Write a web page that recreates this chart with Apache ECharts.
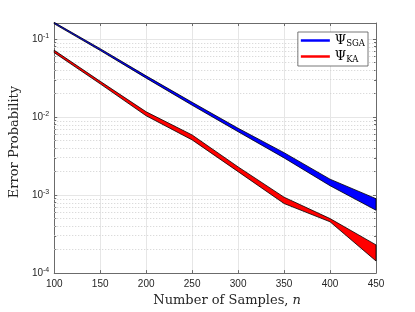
<!DOCTYPE html>
<html>
<head>
<meta charset="utf-8">
<script src="https://cdn.jsdelivr.net/npm/echarts@6/dist/echarts.min.js"></script>
<style>html,body{margin:0;padding:0;background:#fff}#c{width:415px;height:312px}</style>
</head>
<body>
<div id="c"></div>
<script>
const nValues = [100, 150, 200, 250, 300, 350, 400, 450];
const sgaUpper = [0.164, 0.0755, 0.0338, 0.0155, 0.0072, 0.0035, 0.0016, 0.00090];
const sgaLower = [0.157, 0.0715, 0.0316, 0.0142, 0.0065, 0.0030, 0.00132, 0.00064];
const kaUpper = [0.072, 0.0288, 0.0117, 0.0059, 0.0023, 0.00094, 0.00050, 0.00023];
const kaLower = [0.067, 0.0267, 0.0104, 0.0051, 0.0020, 0.00078, 0.000455, 0.000143];
const xTicks = [100, 150, 200, 250, 300, 350, 400, 450];
const yDecades = [-4, -3, -2, -1];

const L = Math.log10;
const yMin = -4, yMax = L(0.161);
const minorVals = [];
for (const d of yDecades) {
  for (let k = 2; k <= 9; k++) { const v = d + L(k); if (v < yMax) minorVals.push(v); }
}
const axisCol = '#6b6b6b';
const font = 'Liberation Sans';
const serif = 'DejaVu Serif';

function bandSeries(name, upper, lower, color) {
  const data = nValues.map((n, i) => [n, L(lower[i]), L(upper[i])]);
  return {
    type: 'custom', name: name, data: data, z: 5, silent: true,
    itemStyle: { color: color, borderWidth: 0 },
    encode: { x: 0, y: [1, 2] },
    renderItem: function (params, api) {
      if (params.dataIndex !== 0) return null;
      const top = data.map(d => api.coord([d[0], d[2]]));
      const bot = data.map(d => api.coord([d[0], d[1]])).reverse();
      return {
        type: 'polygon',
        shape: { points: top.concat(bot) },
        style: { fill: color, stroke: '#000', lineWidth: 0.8 }
      };
    }
  };
}

const chart = echarts.init(document.getElementById('c'), null, { renderer: 'canvas' });
const supLabel = v => {
  if (Math.abs(v - Math.round(v)) > 1e-6) return '';
  return '{b|10}{s|' + Math.round(v) + '}';
};
chart.setOption({
  animation: false,
  backgroundColor: '#fff',
  grid: { left: 54, right: 39, top: 23, bottom: 35, containLabel: false },
  xAxis: [
    { type: 'value', min: 100, max: 450, interval: 50, position: 'bottom',
      axisLine: { show: true, lineStyle: { color: axisCol, width: 1 } },
      axisTick: { show: true, inside: true, length: 3, lineStyle: { color: axisCol } },
      axisLabel: { color: '#262626', fontFamily: font, fontSize: 10, margin: 6 },
      splitLine: { show: true, lineStyle: { color: '#e6e6e6', width: 1 } },
      name: '{t|Number of Samples, }{i|n}', nameLocation: 'middle', nameGap: 20,
      nameTextStyle: { padding: [0, 0, 0, 24], rich: { t: { fontFamily: serif, fontSize: 13, color: '#262626' },
                               i: { fontFamily: serif, fontSize: 13, fontStyle: 'italic', color: '#262626' } } } },
    { type: 'value', min: 100, max: 450, interval: 50, position: 'top',
      axisLine: { show: true, lineStyle: { color: axisCol, width: 1 } },
      axisTick: { show: true, inside: true, length: 3, lineStyle: { color: axisCol } },
      axisLabel: { show: false }, splitLine: { show: false } }
  ],
  yAxis: [
    { type: 'value', min: yMin, max: yMax, interval: 1, position: 'left',
      axisLine: { show: true, lineStyle: { color: axisCol, width: 1 } },
      axisTick: { show: true, inside: true, length: 3, lineStyle: { color: axisCol } },
      axisLabel: { formatter: supLabel, showMaxLabel: false, margin: 5,
        rich: { b: { fontFamily: font, fontSize: 10, color: '#262626' },
                s: { fontFamily: font, fontSize: 7, color: '#262626', padding: [0, 0, 7, 0] } } },
      splitLine: { show: true, lineStyle: { color: '#e6e6e6', width: 1 } },
      name: 'Error Probability', nameLocation: 'middle', nameGap: 26, nameRotate: 90,
      nameTextStyle: { fontFamily: serif, fontSize: 13, color: '#262626', padding: [0, 0, 0, 12] } },
    { type: 'value', min: yMin, max: yMax, interval: 1, position: 'right',
      axisLine: { show: true, lineStyle: { color: axisCol, width: 1 } },
      axisTick: { show: true, inside: true, length: 3, lineStyle: { color: axisCol } },
      axisLabel: { show: false }, splitLine: { show: false } },
    { type: 'value', min: yMin, max: yMax, position: 'left',
      axisLine: { show: false },
      axisTick: { show: true, inside: true, length: 2, customValues: minorVals, lineStyle: { color: axisCol } },
      axisLabel: { show: false, customValues: minorVals }, splitLine: { show: false } },
    { type: 'value', min: yMin, max: yMax, position: 'right',
      axisLine: { show: false },
      axisTick: { show: true, inside: true, length: 2, customValues: minorVals, lineStyle: { color: axisCol } },
      axisLabel: { show: false, customValues: minorVals }, splitLine: { show: false } }
  ],
  legend: {
    show: true, right: 47, top: 32, orient: 'vertical', z: 10,
    backgroundColor: '#fff', borderColor: '#555', borderWidth: 0.8, borderRadius: 0,
    padding: [2, 3, 2, 3], itemGap: 2, itemWidth: 29, itemHeight: 2.5,
    icon: 'rect',
    data: [{ name: 'SGA', itemStyle: { color: '#0000ff', borderWidth: 0, decal: 'none' } },
           { name: 'KA', itemStyle: { color: '#ff0000', borderWidth: 0, decal: 'none' } }],
    formatter: name => '{p|Ψ}{s|' + name + '}',
    textStyle: { rich: { p: { fontFamily: serif, fontSize: 13, color: '#000' },
                         s: { fontFamily: serif, fontSize: 8.5, color: '#000', padding: [6, 0, 0, 0] } } }
  },
  series: [
    bandSeries('SGA', sgaUpper, sgaLower, '#0000ff'),
    bandSeries('KA', kaUpper, kaLower, '#ff0000'),
    { type: 'line', data: [], silent: true,
      markLine: { silent: true, symbol: 'none', label: { show: false },
        lineStyle: { color: '#d0d0d0', type: [1, 2], width: 1 },
        data: minorVals.map(v => ({ yAxis: v })) }, z: 1 }
  ]
});
</script>
</body>
</html>
